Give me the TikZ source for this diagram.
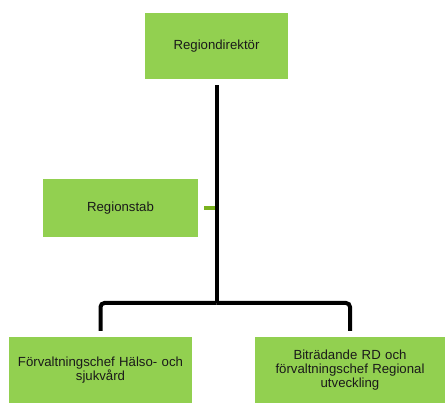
\documentclass[tikz,border=0pt]{standalone}
\usepackage{fontspec}
\setmainfont{Liberation Sans}
\definecolor{boxgreen}{HTML}{92D050}
\definecolor{stubgreen}{RGB}{122,178,30}
\definecolor{txt}{HTML}{1A1A1A}
\begin{document}
\begin{tikzpicture}[x=1pt,y=-1pt,
  orgbox/.style={fill=boxgreen, draw=none, inner sep=0pt, align=center,
    text=txt, font=\fontsize{13.2}{14}\selectfont},
  conn/.style={draw=black, line width=4pt},
  stub/.style={draw=stubgreen, line width=3.5pt}]
\useasboundingbox (0,0) rectangle (445,403);
\node[orgbox, minimum width=143pt, minimum height=66pt] (top) at (216.5,46) {Regiondirektör};
\node[orgbox, minimum width=155pt, minimum height=58pt] (rs) at (120.5,208) {Regionstab};
\node[orgbox, minimum width=183pt, minimum height=66pt, text width=180pt] (hs) at (100.5,370) {Förvaltningschef Hälso- och\\sjukvård};
\node[orgbox, minimum width=190pt, minimum height=66pt, text width=186pt] (ru) at (350,370) {Biträdande RD och\\förvaltningschef Regional\\utveckling};
\coordinate (j) at (216.5,303);
\draw[stub, shorten <=6pt] (rs.east) -- (rs.east -| top.south);
\draw[conn, shorten <=6pt] (top.south) -- (j);
\draw[conn, rounded corners=4pt, shorten >=6pt] (j) -| (hs.north);
\draw[conn, rounded corners=4pt, shorten >=6pt] (j) -| (ru.north);
\end{tikzpicture}
\end{document}
